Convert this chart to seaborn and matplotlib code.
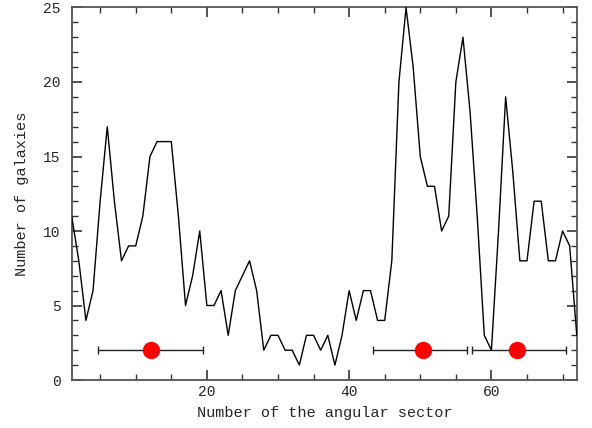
import numpy as np
import pandas as pd
import matplotlib
matplotlib.use("Agg")
import matplotlib.pyplot as plt
import seaborn as sns
from matplotlib.ticker import MultipleLocator

# galaxy counts per angular sector
sectors = list(range(1, 73))
counts = [11, 8, 4, 6, 12, 17, 12, 8, 9, 9,
          11, 15, 16, 16, 16, 11, 5, 7, 10, 5,
          5, 6, 3, 6, 7, 8, 6, 2, 3, 3,
          2, 2, 1, 3, 3, 2, 3, 1, 3, 6,
          4, 6, 6, 4, 4, 8, 20, 25, 21, 15,
          13, 13, 10, 11, 20, 23, 18, 11, 3, 2,
          10, 19, 14, 8, 8, 12, 12, 8, 8, 10,
          9, 3]

# group centres and their extents
grp_center = [12.1, 50.4, 63.6]
grp_low = [4.7, 43.4, 57.3]
grp_high = [19.4, 56.6, 70.5]
grp_level = [2, 2, 2]

df = pd.DataFrame({"sector": sectors, "count": counts})

sns.set_style("ticks")
plt.rcParams['font.family'] = ['Liberation Mono', 'DejaVu Sans Mono']

fig = plt.figure(figsize=(5.92, 4.28), dpi=100)
ax = fig.add_axes([0.1211, 0.1121, 0.8544, 0.8704])

sns.lineplot(data=df, x="sector", y="count", color="black", linewidth=1.0,
             ax=ax, zorder=5)

c = np.array(grp_center)
xerr = [c - np.array(grp_low), np.array(grp_high) - c]
ax.errorbar(grp_center, grp_level, xerr=xerr, fmt="none", ecolor="#222222",
            elinewidth=1.0, capsize=3, capthick=1.0, zorder=3)
ax.plot(grp_center, grp_level, "o", color="red", markersize=12.5,
        markeredgewidth=0, zorder=4)

ax.set_xlim(1, 72.1)
ax.set_ylim(0, 25)
ax.xaxis.set_major_locator(MultipleLocator(20))
ax.xaxis.set_minor_locator(MultipleLocator(5))
ax.yaxis.set_major_locator(MultipleLocator(5))
ax.yaxis.set_minor_locator(MultipleLocator(1))
ax.tick_params(which="both", direction="in", top=True, right=True,
               color="#333333", labelsize=10.5)
ax.tick_params(which="major", length=7, width=1.2)
ax.tick_params(axis="y", which="major", pad=8)
ax.tick_params(which="minor", length=4, width=1.0)
for s in ax.spines.values():
    s.set_color("#555555")
    s.set_linewidth(1.3)

ax.set_xlabel("Number of the angular sector", fontsize=11, labelpad=5)
ax.set_ylabel("Number of galaxies", fontsize=11, labelpad=10)

fig.savefig("out.png", dpi=100)
